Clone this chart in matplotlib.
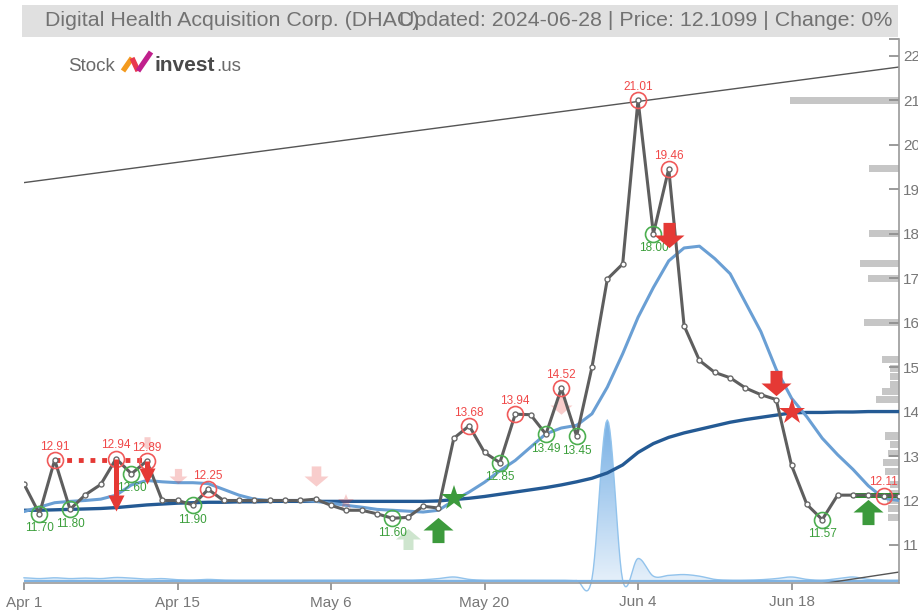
import numpy as np
import matplotlib
matplotlib.use("Agg")
import matplotlib.pyplot as plt
from matplotlib.path import Path
from matplotlib.patches import Rectangle, PathPatch
from matplotlib.colors import LinearSegmentedColormap

plt.rcParams['font.family'] = ['Liberation Sans', 'DejaVu Sans']

W, H = 918, 610

# ---------------- data ----------------
tick_labels = ['Apr 1', 'Apr 15', 'May 6', 'May 20', 'Jun 4', 'Jun 18']
tick_positions = [0, 10, 20, 30, 40, 50]

price = [12.37, 11.70, 12.91, 11.80, 12.13, 12.36, 12.94, 12.60, 12.89, 12.00,
         12.00, 11.90, 12.25, 12.00, 12.00, 12.00, 12.00, 12.00, 12.00, 12.03,
         11.89, 11.78, 11.78, 11.70, 11.60, 11.62, 11.87, 11.83, 13.40, 13.68,
         13.08, 12.85, 13.94, 13.93, 13.49, 14.52, 13.45, 15.00, 16.98, 17.32,
         21.01, 18.00, 19.46, 15.93, 15.15, 14.88, 14.76, 14.53, 14.38, 14.27,
         12.79, 11.91, 11.57, 12.12, 12.12, 12.12, 12.11, 12.11]

ma_short = [11.75, 11.85, 11.95, 11.98, 12.00, 12.03, 12.12, 12.35, 12.45, 12.42,
            12.40, 12.40, 12.38, 12.25, 12.12, 12.03, 12.00, 12.00, 12.00, 11.98,
            11.94, 11.89, 11.85, 11.80, 11.78, 11.76, 11.74, 11.78, 12.00, 12.19,
            12.41, 12.67, 12.90, 13.20, 13.50, 13.63, 13.69, 13.95, 14.55, 15.30,
            16.12, 16.79, 17.39, 17.68, 17.72, 17.44, 17.10, 16.45, 15.80, 14.95,
            14.30, 13.88, 13.40, 13.03, 12.70, 12.33, 12.05, 12.00]

ma_long = [11.78, 11.78, 11.79, 11.80, 11.81, 11.82, 11.84, 11.87, 11.90, 11.92,
           11.94, 11.95, 11.96, 11.96, 11.97, 11.97, 11.98, 11.98, 11.98, 11.98,
           11.98, 11.98, 11.98, 11.98, 11.98, 11.98, 11.98, 11.99, 12.02, 12.05,
           12.09, 12.14, 12.19, 12.24, 12.29, 12.35, 12.42, 12.50, 12.62, 12.80,
           13.08, 13.28, 13.42, 13.52, 13.60, 13.68, 13.76, 13.82, 13.87, 13.92,
           13.97, 13.98, 13.98, 13.99, 13.99, 14.00, 14.00, 14.00]

volume = [2.0, 1.5, 2.0, 1.5, 1.8, 1.5, 2.2, 1.8, 1.2, 1.5,
          0.8, 0.6, 1.0, 0.6, 0.5, 0.5, 0.5, 0.5, 0.5, 0.5,
          0.5, 0.5, 0.5, 0.5, 0.5, 0.5, 0.8, 1.5, 2.5, 1.0,
          0.5, 0.5, 0.5, 0.5, 0.5, 0.5, 0.3, 1.5, 100.0, 0.5,
          14.0, 3.0, 3.5, 4.0, 3.0, 1.0, 0.5, 0.5, 0.8, 1.5,
          2.5, 1.0, 0.5, 1.5, 2.5, 1.0, 0.5, 0.5]

high_idx = [2, 6, 8, 12, 29, 32, 35, 40, 42, 56]
low_idx = [1, 3, 7, 11, 24, 31, 34, 36, 41, 52]

# trend lines: (x0, y0, x1, y1)
trend_upper = (0, 19.15, 57, 21.75)
trend_lower = (40, 9.50, 57, 10.39)

# resistance (dotted) and support (solid) segments
resist_seg = (2, 8, 12.91)
support_seg = (54, 57, 12.12)

# signals
sig_idx = [8, 10, 19, 21, 25, 27, 28, 35, 42, 49, 50, 55]
sig_val = [13.29, 12.55, 12.55, 11.97, 11.13, 11.33, 12.05, 14.15, 17.98, 14.64, 13.99, 11.74]
sig_kind = ['down', 'down', 'down', 'star', 'up', 'up', 'star', 'down', 'down', 'down', 'star', 'up']
sig_side = ['sell', 'sell', 'sell', 'sell', 'buy', 'buy', 'buy', 'sell', 'sell', 'sell', 'sell', 'buy']
sig_faded = [True, True, True, True, True, False, False, True, False, False, False, False]
sig_px = [15, 18, 24, 17, 25, 30, 27, 22, 30, 30, 28, 30]

# target arrows (x, from, to)
target_arrows = [(6, 12.94, 11.78), (8, 12.89, 12.39)]

# volume-by-price
vbp_levels = [21.0, 19.46, 18.0, 17.33, 17.0, 16.0, 15.17, 14.97, 14.78, 14.6, 14.45,
              14.27, 13.45, 13.25, 13.05, 12.85, 12.65, 12.35, 12.15, 12.0, 11.82, 11.62]
vbp_len = [7.1, 1.95, 1.95, 2.55, 2.0, 2.3, 1.1, 0.6, 0.6, 0.6, 1.1,
           1.5, 0.9, 0.6, 0.7, 1.05, 0.9, 0.6, 0.65, 0.8, 0.7, 0.7]

y_ticks = list(range(11, 23))

# ---------------- styles ----------------
RED = '#e53935'
GREEN = '#3c9a3c'
RED_C = '#f05a5a'
GREEN_C = '#4caf50'
RED_T = '#f04848'
GREEN_T = '#3a9e3a'
GRAY_T = '#727272'

def fx(px):
    return px / W

def fy(py):
    return 1 - py / H

fig = plt.figure(figsize=(W / 100, H / 100), dpi=100)
fig.patch.set_facecolor('white')

ax_l, ax_r, ax_t, ax_b = 24, 899, 39, 583
axv = fig.add_axes([fx(ax_l), fy(ax_b), fx(ax_r) - fx(ax_l), (ax_b - ax_t) / H])
ax = fig.add_axes([fx(ax_l), fy(ax_b), fx(ax_r) - fx(ax_l), (ax_b - ax_t) / H], sharex=axv)
ax.patch.set_visible(False)
axv.set_zorder(1)
ax.set_zorder(2)

n = len(price)
xi = np.arange(n)

# ---------------- volume area (smoothed rendering) ----------------
def catmull(y, k=12):
    y = np.asarray(y, float)
    p = np.concatenate([[y[0]], y, [y[-1]]])
    xs, ys = [], []
    for i in range(len(y) - 1):
        p0, p1, p2, p3 = p[i], p[i + 1], p[i + 2], p[i + 3]
        t = np.linspace(0, 1, k, endpoint=False)
        m1 = (p2 - p0) / 2
        m2 = (p3 - p1) / 2
        h00 = 2 * t**3 - 3 * t**2 + 1
        h10 = t**3 - 2 * t**2 + t
        h01 = -2 * t**3 + 3 * t**2
        h11 = t**3 - t**2
        ys.append(h00 * p1 + h10 * m1 + h01 * p2 + h11 * m2)
        xs.append(i + t)
    xs.append([len(y) - 1])
    ys.append([y[-1]])
    return np.concatenate(xs), np.concatenate(ys)

vx, vy = catmull(volume)
vmax = max(volume)
verts = [(vx[0], 0)] + list(zip(vx, vy)) + [(vx[-1], 0), (vx[0], 0)]
codes = [Path.MOVETO] + [Path.LINETO] * (len(verts) - 2) + [Path.CLOSEPOLY]
vpatch = PathPatch(Path(verts, codes), facecolor='none', edgecolor='none')
axv.add_patch(vpatch)
vpatch.set_clip_on(False)
grad = np.linspace(0, 1, 256).reshape(-1, 1)
cmap = LinearSegmentedColormap.from_list('v', ['#f0f6fc', '#b3d3f1', '#78b0e4'])
im = axv.imshow(grad, extent=[0, n - 1, -10, vmax], origin='lower', aspect='auto',
                cmap=cmap, zorder=1, interpolation='bilinear')
im.set_clip_path(vpatch)
axv.plot(vx, vy, color='#92c3ec', lw=1.0, zorder=2, clip_on=False)
axv.axhline(0, color='#7fb3e3', lw=1.6, zorder=2)
axv.set_xlim(0, n - 1)
axv.set_ylim(-1.24, 336.6)
axv.axis('off')

# ---------------- price axes ----------------
ax.set_xlim(0, n - 1)
ax.set_ylim(10.144, 22.38)

# volume by price
ax.barh(vbp_levels, vbp_len, left=[n - 1 - l for l in vbp_len], height=0.16,
        color='#c6c6c6', zorder=1, linewidth=0)

# trend lines
ax.plot([trend_upper[0], trend_upper[2]], [trend_upper[1], trend_upper[3]],
        color='#555555', lw=1.0, zorder=2)
ax.plot([trend_lower[0], trend_lower[2]], [trend_lower[1], trend_lower[3]],
        color='#555555', lw=1.0, zorder=2)

# moving averages
ax.plot(xi, ma_long, color='#245a94', lw=2.4, zorder=3, solid_capstyle='round')
ax.plot(xi, ma_short, color='#6a9fd4', lw=2.2, zorder=3, solid_capstyle='round')

# resistance / support
ax.plot([resist_seg[0], resist_seg[1]], [resist_seg[2]] * 2, color=RED, lw=3.5,
        linestyle=(0, (1.0, 1.4)), zorder=4)
ax.plot([support_seg[0], support_seg[1]], [support_seg[2]] * 2, color='#1e8a1e', lw=3.5,
        zorder=4)

# price line
ax.plot(xi, price, color='#5e5e5e', lw=2.2, marker='o', ms=3.6, mfc='white',
        mec='#6a6a6a', mew=1.0, zorder=5)

# high/low circles and labels
for i in high_idx:
    ax.plot(i, price[i], 'o', mfc='none', mec=RED_C, ms=11.5, mew=1.2, zorder=6)
    ax.annotate(f'{price[i]:.2f}', (i, price[i]), xytext=(0, 9.5), textcoords='offset points',
                ha='center', va='center', fontsize=8.5, color=RED_T, zorder=7)
for i in low_idx:
    ax.plot(i, price[i], 'o', mfc='none', mec=GREEN_C, ms=11.5, mew=1.2, zorder=6)
    ax.annotate(f'{price[i]:.2f}', (i, price[i]), xytext=(0, -10.5), textcoords='offset points',
                ha='center', va='center', fontsize=8.5, color=GREEN_T, zorder=7)

# target arrows
tri_down = Path([(-0.5, 0.5), (0.5, 0.5), (0.0, -0.5), (-0.5, 0.5)],
                [Path.MOVETO, Path.LINETO, Path.LINETO, Path.CLOSEPOLY])
px_per_unit = (ax_b - ax_t) / (22.38 - 10.144)
for (x, y0, y1) in target_arrows:
    head_h = 14 / px_per_unit
    ax.plot([x, x], [y0, y1 + head_h * 0.6], color=RED, lw=3.6, zorder=8, solid_capstyle='butt')
    ax.plot(x, y1 + head_h / 2, marker=tri_down, ms=11.5, color=RED, mew=0, zorder=8)

# signal markers
arrow_down = Path([(-0.2, 0.42), (0.2, 0.42), (0.2, 0.0), (0.5, 0.0), (0.0, -0.42),
                   (-0.5, 0.0), (-0.2, 0.0), (-0.2, 0.42)],
                  [Path.MOVETO] + [Path.LINETO] * 6 + [Path.CLOSEPOLY])
arrow_up = Path([(-0.2, -0.42), (0.2, -0.42), (0.2, 0.0), (0.5, 0.0), (0.0, 0.42),
                 (-0.5, 0.0), (-0.2, 0.0), (-0.2, -0.42)],
                [Path.MOVETO] + [Path.LINETO] * 6 + [Path.CLOSEPOLY])
for i, v, k, s, f, p in zip(sig_idx, sig_val, sig_kind, sig_side, sig_faded, sig_px):
    col = RED if s == 'sell' else GREEN
    alpha = 0.25 if f else 1.0
    mk = {'down': arrow_down, 'up': arrow_up, 'star': '*'}[k]
    ax.plot(i, v, marker=mk, ms=p * 0.72, color=col, alpha=alpha, mew=0,
            linestyle='none', zorder=8 if not f else 3.5)

# axes styling
for sp in ['left', 'top']:
    ax.spines[sp].set_visible(False)
for sp in ['right', 'bottom']:
    ax.spines[sp].set_color('#9a9a9a')
    ax.spines[sp].set_linewidth(1.2)
ax.yaxis.tick_right()
ax.set_yticks(y_ticks)
ax.set_yticks([22.38], minor=True)
ax.set_yticklabels([str(t) for t in y_ticks])
ax.tick_params(axis='y', which='both', direction='in', length=7, width=1.2, color='#8a8a8a',
               pad=3, labelsize=11, labelcolor='#777777', left=False, right=True)
ax.set_xticks(tick_positions)
ax.set_xticklabels(tick_labels)
ax.tick_params(axis='x', direction='out', length=5, width=1.2, color='#8a8a8a', pad=4,
               labelsize=11, labelcolor='#777777')

# ---------------- title bar ----------------
fig.patches.append(Rectangle((fx(22), fy(37)), fx(898) - fx(22), (37 - 5) / H,
                             transform=fig.transFigure, facecolor='#e0e0e0',
                             edgecolor='none', zorder=0))
fig.text(fx(45), fy(21), 'Digital Health Acquisition Corp. (DHAC)', fontsize=15.4,
         color=GRAY_T, ha='left', va='center')
fig.text(fx(892), fy(21), 'Updated: 2024-06-28 | Price: 12.1099 | Change: 0%', fontsize=15.4,
         color=GRAY_T, ha='right', va='center')

# ---------------- logo ----------------
fig.text(fx(68), fy(71), 'Stock', fontsize=13.5, color='#6a6a6a', ha='left', va='baseline')
fig.lines.append(plt.Line2D([fx(123), fx(132)], [fy(71), fy(58)], transform=fig.transFigure,
                            color='#f39a1e', lw=3.8, solid_capstyle='butt'))
fig.lines.append(plt.Line2D([fx(132), fx(138)], [fy(58), fy(71)], transform=fig.transFigure,
                            color='#e8384f', lw=3.8, solid_capstyle='butt'))
fig.lines.append(plt.Line2D([fx(138), fx(151)], [fy(71), fy(52)], transform=fig.transFigure,
                            color='#c0208c', lw=3.8, solid_capstyle='butt'))
fig.text(fx(155), fy(71), 'invest', fontsize=15, fontweight='bold', color='#4a4a4a',
         ha='left', va='baseline')
fig.text(fx(216), fy(71), '.us', fontsize=13.5, color='#6a6a6a', ha='left', va='baseline')

fig.savefig('out.png', dpi=100, facecolor='white')
